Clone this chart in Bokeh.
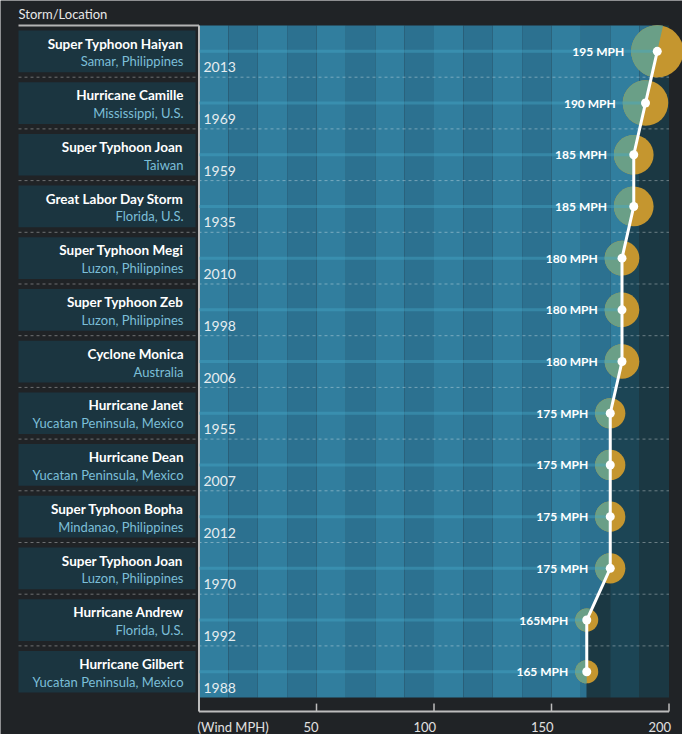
import numpy as np
from bokeh.plotting import figure
from bokeh.models import Range1d
from bokeh.core.properties import value
from bokeh.embed import file_html
from bokeh.resources import INLINE

# ---------------- data ----------------
names = ["Super Typhoon Haiyan", "Hurricane Camille", "Super Typhoon Joan",
         "Great Labor Day Storm", "Super Typhoon Megi", "Super Typhoon Zeb",
         "Cyclone Monica", "Hurricane Janet", "Hurricane Dean",
         "Super Typhoon Bopha", "Super Typhoon Joan", "Hurricane Andrew",
         "Hurricane Gilbert"]
locations = ["Samar, Philippines", "Mississippi, U.S.", "Taiwan", "Florida, U.S.",
             "Luzon, Philippines", "Luzon, Philippines", "Australia",
             "Yucatan Peninsula, Mexico", "Yucatan Peninsula, Mexico",
             "Mindanao, Philippines", "Luzon, Philippines", "Florida, U.S.",
             "Yucatan Peninsula, Mexico"]
years = ["2013", "1969", "1959", "1935", "2010", "1998", "2006",
         "1955", "2007", "2012", "1970", "1992", "1988"]
wind = [195, 190, 185, 185, 180, 180, 180, 175, 175, 175, 175, 165, 165]
wind_labels = ["195 MPH", "190 MPH", "185 MPH", "185 MPH", "180 MPH", "180 MPH",
               "180 MPH", "175 MPH", "175 MPH", "175 MPH", "175 MPH", "165MPH",
               "165 MPH"]
x_ticks = [50, 100, 150, 200]
x_tick_labels = ["50", "100", "150", "200"]
axis_title = "(Wind MPH)"
header = "Storm/Location"

# ---------------- layout ----------------
W, H = 682, 734
SX = 2.35      # px per MPH
R = 51.7       # px per row
X0 = 198.5     # px of 0 MPH
TOP = 25.0     # px of plot top
N = len(wind)
XMAX = 200.0
STRIPE = 12.5

BG = "#202326"
BOX = "#1b3540"
BLUE = ["#317e9e", "#2c7190"]
DARK = ["#1c4555", "#1b3843"]
GREEN = "#6a9f87"
ORANGE = "#c5962f"
FONT = value("Lato")


def fx(px):
    return (px - X0) / SX


def fy(px):
    return N - (px - TOP) / R


p = figure(width=W, height=H, x_range=Range1d(fx(0), fx(W)), y_range=Range1d(fy(H), fy(0)),
           output_backend="svg", toolbar_location=None, x_axis_location=None,
           y_axis_location=None, min_border=0, background_fill_color=BG,
           border_fill_color=BG, outline_line_color=None)
p.grid.visible = False

v = np.array(wind, dtype=float)
yc = N - np.arange(N) - 0.5

# boundary of the filled area (follows the polyline, extended at both ends)
top_x = v[0] + (v[0] - v[1]) * 0.5
bot_x = v[-1] + (v[-1] - v[-2]) * 0.5
by = np.concatenate([[N], yc, [0.0]])[::-1]
bx = np.concatenate([[top_x], v, [bot_x]])[::-1]
ys = np.union1d(np.linspace(0, N, 1301), by)
xb = np.interp(ys, by, bx)

nstripes = int(XMAX / STRIPE)
for k in range(nstripes):
    a, b = k * STRIPE, (k + 1) * STRIPE
    mid = np.clip(xb, a, b)
    p.harea(x1=np.full_like(ys, a), x2=mid, y=ys, fill_color=BLUE[k % 2])
    p.harea(x1=mid, x2=np.full_like(ys, b), y=ys, fill_color=DARK[k % 2])

# row separators
sep = np.arange(1, N)
p.segment(x0=fx(18), x1=XMAX, y0=sep, y1=sep, line_color="white", line_alpha=0.35,
          line_width=1, line_dash="3 3")

# left label boxes
p.quad(left=fx(18), right=fx(195), top=yc + 0.5 - 5 / R, bottom=yc - 0.5 + 5 / R,
       fill_color=BOX, line_color=None)

# frame lines
y_ax = fy(TOP + N * R + 14)
p.segment(x0=fx(18), x1=0, y0=N, y1=N, line_color="#b4b4b4", line_width=2)
p.segment(x0=0, x1=0, y0=N, y1=y_ax, line_color="#bdbdbd", line_width=2)
p.segment(x0=0, x1=XMAX, y0=y_ax, y1=y_ax, line_color="#bdbdbd", line_width=2)
p.segment(x0=x_ticks, x1=x_ticks, y0=y_ax, y1=y_ax + 8 / R, line_color="#bdbdbd",
          line_width=1.5)

# circles split by the line
rad = 11.5 * np.exp(0.0273 * (v - 165))
up_dx = np.r_[v[0] - v[1], v[:-1] - v[1:]] * SX
dn_dx = np.r_[v[1:] - v[:-1], v[-1] - v[-2]] * SX
ang_up = np.arctan2(R, up_dx)
ang_dn = np.arctan2(-R, dn_dx)
p.circle(x=v, y=yc, radius=rad, radius_units="screen", fill_color=ORANGE, line_color=None)
p.wedge(x=v, y=yc, radius=rad, radius_units="screen", start_angle=ang_up,
        end_angle=ang_dn + 2 * np.pi, direction="anticlock", fill_color=GREEN,
        line_color=None)

# light row lines
p.segment(x0=0, x1=v, y0=yc, y1=yc, line_color="#46aac8", line_alpha=0.4, line_width=3)

# polyline with dots
p.line(v, yc, line_color="white", line_width=3)
p.scatter(v, yc, size=9, fill_color="white", line_color=None)

# value labels
p.text(x=v - (rad + 7) / SX, y=yc, text=wind_labels, text_font=FONT, text_font_style="bold",
       text_font_size="12px", text_color="white", text_align="right",
       text_baseline="middle")

# row texts
row_top = TOP + np.arange(N) * R
p.text(x=fx(183), y=fy(row_top + 18), text=names, text_font=FONT, text_font_style="bold",
       text_font_size="13.5px", text_color="white", text_align="right",
       text_baseline="middle")
p.text(x=fx(183), y=fy(row_top + 35.8), text=locations, text_font=FONT,
       text_font_size="13px", text_color="#7bbfd8", text_align="right",
       text_baseline="middle")
p.text(x=fx(203), y=fy(row_top + 41.8), text=years, text_font=FONT,
       text_font_size="14px", text_color="#e6edf0", text_align="left",
       text_baseline="middle")

# header and axis texts
p.text(x=[fx(18)], y=[fy(13.3)], text=[header], text_font=FONT, text_font_size="13px",
       text_color="#e8e8e8", text_align="left", text_baseline="middle")
lab_y = fy(TOP + N * R + 14 + 15.5)
p.text(x=np.array(x_ticks) + 2 / SX, y=lab_y, text=x_tick_labels, text_font=FONT,
       text_font_size="13px", text_color="#e0e0e0", text_align="right",
       text_baseline="middle")
p.text(x=[fx(197)], y=[lab_y], text=[axis_title], text_font=FONT, text_font_size="13px",
       text_color="#e0e0e0", text_align="left", text_baseline="middle")

html = file_html(p, INLINE, title="Strongest storms")
html = html.replace("<body>", '<body style="background-color:%s;">' % BG, 1)
open("out.html", "w").write(html)
